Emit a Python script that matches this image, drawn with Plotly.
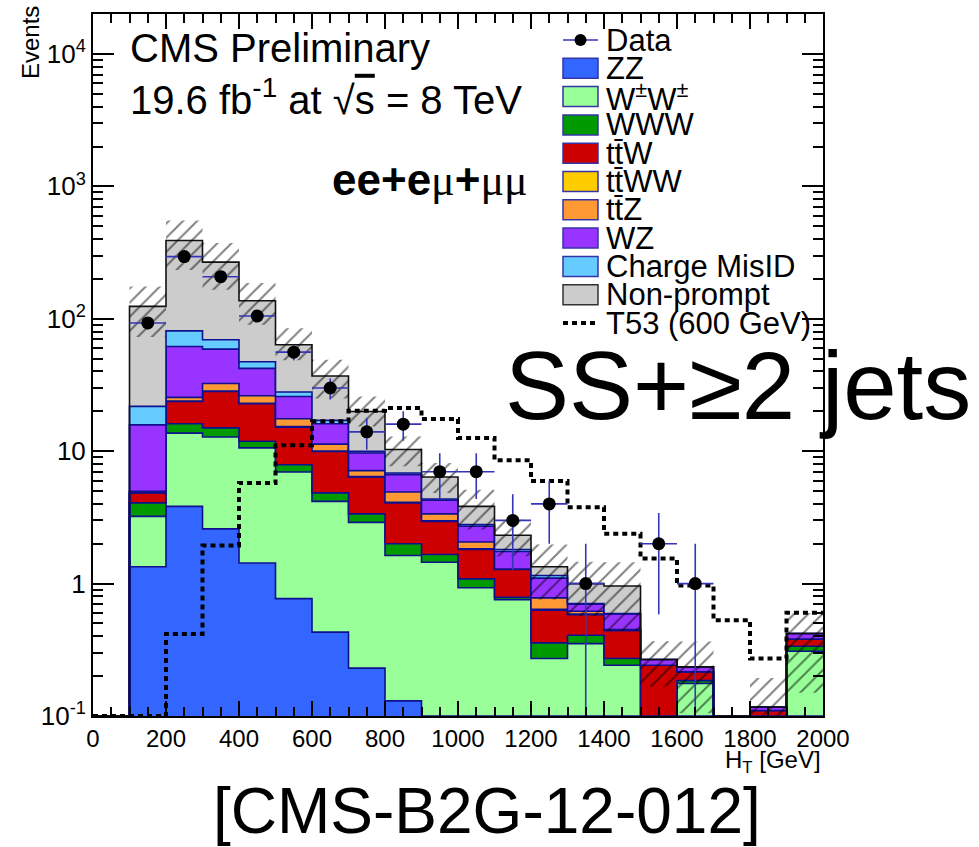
import numpy as np
import plotly.graph_objects as go

# ---------------------------------------------------------------- data
edges = list(range(0, 2100, 100))          # H_T bin edges [GeV]
centers = [e + 50 for e in edges[:-1]]

data_counts = [0, 93, 295, 208, 105, 56, 30, 14, 16, 7, 7, 3, 4, 1, 0, 2, 1, 0, 0, 0]

zz    = [0, 1.34, 3.83, 2.59, 1.43, 0.77, 0.43, 0.23, 0.13, 0, 0, 0, 0, 0, 0, 0, 0, 0, 0, 0]
wpwp  = [0, 1.88, 9.87, 10.2, 9.17, 6.2, 3.75, 2.67, 1.5, 1.45, 0.93, 0.757, 0.272, 0.352, 0.242, 0, 0.176, 0, 0, 0.308]
www   = [0, 0.85, 2.4, 2.2, 1.3, 0.93, 0.66, 0.46, 0.37, 0.21, 0.155, 0.031, 0.085, 0.055, 0.03, 0, 0.009, 0, 0, 0.028]
ttw   = [0, 0.76, 7.7, 13.3, 10.9, 7.3, 5.12, 3.02, 2.07, 1.29, 0.725, 0.49, 0.273, 0.176, 0.17, 0.242, 0.031, 0, 0.11, 0.046]
ttww  = [0, 0.02, 0.1, 0.2, 0.2, 0.15, 0.08, 0.05, 0.05, 0.03, 0.02, 0.005, 0.01, 0.005, 0, 0, 0, 0, 0, 0]
ttz   = [0, 0.12, 1.6, 4.0, 3.2, 2.25, 1.26, 0.70, 0.80, 0.38, 0.23, 0.005, 0.14, 0.03, 0.008, 0, 0, 0, 0, 0]
wz    = [0, 10.83, 36.3, 26.5, 16.0, 8.3, 4.8, 2.57, 1.73, 0.90, 0.65, 0.46, 0.32, 0.082, 0.14, 0.025, 0.019, 0, 0.007, 0.038]
misid = [0, 6.0, 19.2, 10.5, 5.2, 2.1, 1.0, 0.26, 0.2, 0.1, 0.08, 0.06, 0.05, 0.007, 0.003, 0, 0, 0, 0, 0]
nonprompt = [0, 102.2, 309, 198.5, 89.6, 35.7, 19.9, 10.0, 3.45, 2.03, 1.04, 0.51, 0.19, 0.293, 0.365, 0, 0, 0, 0, 0]

# total background uncertainty (absolute, up / down)
unc_up = [0, 51, 162, 105, 49, 21, 12, 5.9, 2.6, 1.76, 1.29, 0.72, 0.63, 0.46, 0.49, 0.10, 0.13, 0, 0.077, 0.18]
unc_dn = [0, 51, 156, 102, 47, 15, 12, 4.6, 2.6, 1.55, 1.27, 0.71, 0.58, 0.43, 0.52, 0.10, 0.13, 0, 0.077, 0.27]

# signal T53 (600 GeV)
t53 = [0, 0, 0.417, 1.94, 5.75, 11.1, 16.8, 20.2, 21.2, 17.5, 12.6, 8.53, 5.96, 3.77, 2.38, 1.55, 0.966, 0.529, 0.272, 0.601]

samples = [
    ("ZZ", zz, "#3366ff"),
    ("W<sup>±</sup>W<sup>±</sup>", wpwp, "#99ff99"),
    ("WWW", www, "#009900"),
    ("tt\u0304W", ttw, "#cc0000"),
    ("tt\u0304WW", ttww, "#ffcc00"),
    ("tt\u0304Z", ttz, "#ff9933"),
    ("WZ", wz, "#9933ff"),
    ("Charge MisID", misid, "#66ccff"),
    ("Non-prompt", nonprompt, "#cccccc"),
]

# ---------------------------------------------------------------- style
FONT = "Liberation Sans, Arial, Helvetica, sans-serif"
SERIF = "Liberation Serif, Times New Roman, serif"
NAVY = "#10108f"
DATA_BLUE = "#3535b5"
YMIN, YMAX_LOG = 0.1, 4.302

W, H = 979, 847
ML, MR, MT, MB = 93, 156, 14, 131
PW, PH = W - ML - MR, H - MT - MB


def px(xp):
    return (xp - ML) / PW


def py(yp):
    return (H - MB - yp) / PH


def step_y(vals):
    v = [max(a, YMIN) for a in vals]
    return v + [v[-1]]


fig = go.Figure()

# invisible floor for the first stacked fill
fig.add_trace(go.Scatter(x=edges, y=[YMIN] * len(edges), mode="lines",
                         line=dict(width=0), line_shape="hv", hoverinfo="skip"))

cum = np.zeros(len(centers))
for name, vals, col in samples:
    cum = cum + np.array(vals)
    edge_col = "#111111" if name == "Non-prompt" else NAVY
    fig.add_trace(go.Scatter(
        x=edges, y=step_y(cum.tolist()), mode="lines", line_shape="hv",
        line=dict(color=edge_col, width=1.6), fill="tonexty", fillcolor=col,
        name=name, hoverinfo="skip"))

total = cum
# hatched uncertainty band, one box per bin
for lo_edge, t, u, d in zip(edges[:-1], total, unc_up, unc_dn):
    if t <= 0:
        continue
    lo = max(t - d, 1e-3)
    hi = t + u
    x0, x1 = lo_edge, lo_edge + 100
    fig.add_trace(go.Scatter(
        x=[x0, x1, x1, x0, x0], y=[lo, lo, hi, hi, lo], mode="lines",
        line=dict(width=0), fill="toself", fillcolor="rgba(0,0,0,0)",
        fillpattern=dict(shape="/", fgcolor="black", bgcolor="rgba(0,0,0,0)",
                         size=10, solidity=0.2, fillmode="overlay"),
        hoverinfo="skip"))

# signal
fig.add_trace(go.Scatter(x=edges, y=step_y(t53), mode="lines", line_shape="hv",
                         line=dict(color="black", width=4, dash="5px,4px"),
                         hoverinfo="skip"))

# data with sqrt(N) errors
dx, dy, eu, ed = [], [], [], []
for c, n in zip(centers, data_counts):
    if n <= 0:
        continue
    e = float(np.sqrt(n))
    dx.append(c)
    dy.append(n)
    eu.append(e)
    ed.append(min(e, n * 0.999))
fig.add_trace(go.Scatter(
    x=dx, y=dy, mode="markers",
    marker=dict(color="black", size=13, symbol="circle"),
    error_x=dict(type="constant", value=50, color=DATA_BLUE, thickness=1.6, width=0),
    error_y=dict(type="data", array=eu, arrayminus=ed, symmetric=False,
                 color=DATA_BLUE, thickness=1.6, width=0),
    hoverinfo="skip"))

# ---------------------------------------------------------------- axes
minor_y = [m * 10 ** d for d in range(-1, 5) for m in range(2, 10)]
fig.update_xaxes(
    range=[0, 2000], tickvals=list(range(0, 2001, 200)),
    ticks="inside", ticklen=15, tickwidth=1.5, tickcolor="black",
    minor=dict(ticks="inside", ticklen=9, tickwidth=1.5, tickcolor="black",
               tickmode="linear", tick0=0, dtick=50),
    showline=True, linecolor="black", linewidth=2, mirror="ticks",
    showgrid=False, zeroline=False,
    tickfont=dict(family=FONT, size=24, color="black"))
fig.update_yaxes(
    type="log", range=[-1, YMAX_LOG],
    tickvals=[0.1, 1, 10, 100, 1000, 10000],
    ticktext=["10<sup>-1</sup>", "1", "10", "10<sup>2</sup>", "10<sup>3</sup>", "10<sup>4</sup>"],
    ticks="inside", ticklen=21, tickwidth=1.5, tickcolor="black",
    minor=dict(ticks="inside", ticklen=10, tickwidth=1.5, tickcolor="black",
               tickmode="array", tickvals=minor_y),
    showline=True, linecolor="black", linewidth=2, mirror="ticks",
    showgrid=False, zeroline=False,
    tickfont=dict(family=FONT, size=26, color="black"))

# ---------------------------------------------------------------- text
ann = []


def text(x, y, s, size, xanchor="left", yanchor="middle", angle=0):
    ann.append(dict(x=px(x), y=py(y), xref="paper", yref="paper", text=s,
                    showarrow=False, xanchor=xanchor, yanchor=yanchor,
                    textangle=angle, font=dict(family=FONT, size=size, color="black")))


mu = f"<span style='font-family:{SERIF}'>μ</span>"
text(128, 48, "CMS Preliminary", 40)
text(128, 97, "19.6 fb<sup>-1</sup> at √<span style='text-decoration:overline'>s</span> = 8 TeV", 40)
text(330, 180, f"<b>ee+e</b>{mu}<b>+</b>{mu}{mu}", 44)
text(503, 385, "SS+≥2 jets", 96)
text(487, 811, "[CMS-B2G-12-012]", 64, xanchor="center")
text(30, 42, "Events", 24, xanchor="center", angle=-90)
text(823, 762, "H<sub>T</sub> [GeV]", 24, xanchor="right")

# legend
shapes = []
row0, dy_row = 40, 28.3
bx0, bx1 = 563, 598
text(604, row0, "Data", 31)
shapes.append(dict(type="line", xref="paper", yref="paper", x0=px(bx0), x1=px(bx1),
                   y0=py(row0), y1=py(row0), line=dict(color=DATA_BLUE, width=1.6)))
shapes.append(dict(type="circle", xref="paper", yref="paper",
                   x0=px(580.5 - 6), x1=px(580.5 + 6), y0=py(row0 + 6), y1=py(row0 - 6),
                   fillcolor="black", line=dict(color="black", width=0)))
for i, (name, vals, col) in enumerate(samples, start=1):
    yc = row0 + i * dy_row
    edge_col = "#333333" if name == "Non-prompt" else "#3434a8"
    shapes.append(dict(type="rect", xref="paper", yref="paper",
                       x0=px(bx0), x1=px(bx1), y0=py(yc + 10), y1=py(yc - 10),
                       fillcolor=col, line=dict(color=edge_col, width=1.5)))
    text(604, yc, name, 31)
yc = row0 + 10 * dy_row
shapes.append(dict(type="line", xref="paper", yref="paper", x0=px(bx0), x1=px(bx1),
                   y0=py(yc), y1=py(yc), line=dict(color="black", width=4, dash="5px,4px")))
text(604, yc, "T53 (600 GeV)", 31)

fig.update_layout(
    width=W, height=H, autosize=False,
    margin=dict(l=ML, r=MR, t=MT, b=MB),
    paper_bgcolor="white", plot_bgcolor="white",
    showlegend=False,
    annotations=ann, shapes=shapes,
    font=dict(family=FONT, color="black"))

fig.write_html("out.html")
